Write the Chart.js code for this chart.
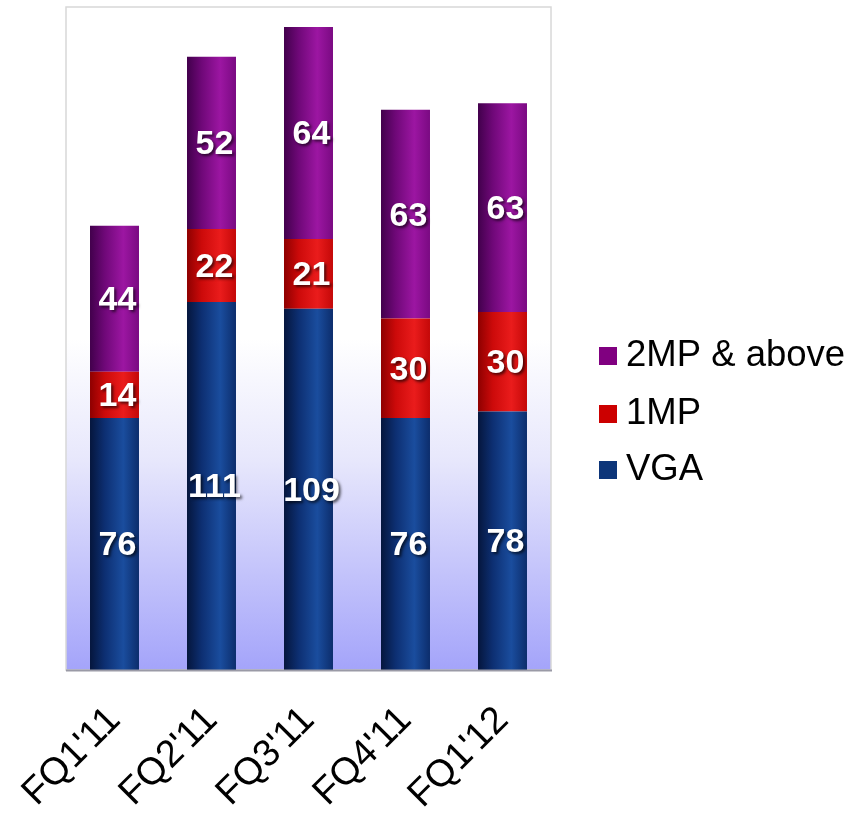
<!DOCTYPE html>
<html>
<head>
<meta charset="utf-8">
<script src="https://cdn.jsdelivr.net/npm/chart.js@4/dist/chart.umd.min.js"></script>
<style>
  html, body { margin: 0; padding: 0; background: #ffffff; }
  #wrap { width: 852px; height: 819px; position: relative; }
</style>
</head>
<body>
<div id="wrap"><canvas id="c" width="852" height="819"></canvas></div>
<script>
const categories = ["FQ1'11", "FQ2'11", "FQ3'11", "FQ4'11", "FQ1'12"];
const vgaValues = [76, 111, 109, 76, 78];
const oneMpValues = [14, 22, 21, 30, 30];
const twoMpValues = [44, 52, 64, 63, 63];
const seriesNames = ["VGA", "1MP", "2MP & above"];
const yMax = 200;

const FONT = '"Liberation Sans", Arial, Helvetica, sans-serif';
const BAR_FRACTION = 0.505;

// gradient stops per series: [left dark, mid, highlight, right edge], legend color
const shades = [
  { stops: ['#05163d', '#0d2f72', '#1a4d9e', '#0c2d6c'], legend: '#0c3579' },
  { stops: ['#8e0000', '#cc0a0a', '#ea1c1c', '#c40808'], legend: '#cc0000' },
  { stops: ['#42004c', '#6f0878', '#9c16a2', '#7a0a82'], legend: '#800080' }
];

function barFill(seriesIdx) {
  return function(ctx) {
    const chart = ctx.chart;
    const area = chart.chartArea;
    const s = shades[seriesIdx];
    if (!area) return s.legend;
    const xs = chart.scales.x;
    const cx = xs.getPixelForValue(ctx.dataIndex);
    const w = (area.right - area.left) / categories.length * BAR_FRACTION;
    const g = chart.ctx.createLinearGradient(cx - w / 2, 0, cx + w / 2, 0);
    g.addColorStop(0, s.stops[0]);
    g.addColorStop(0.3, s.stops[1]);
    g.addColorStop(0.68, s.stops[2]);
    g.addColorStop(1, s.stops[3]);
    return g;
  };
}

const plotBackground = {
  id: 'plotBackground',
  beforeDraw(chart) {
    const { ctx, chartArea: a } = chart;
    ctx.save();
    const g = ctx.createLinearGradient(0, a.top, 0, a.bottom);
    g.addColorStop(0, '#ffffff');
    g.addColorStop(0.5, '#ffffff');
    g.addColorStop(0.68, '#e8e8fc');
    g.addColorStop(1, '#a4a4fa');
    ctx.fillStyle = g;
    ctx.fillRect(a.left, a.top, a.right - a.left, a.bottom - a.top);
    ctx.strokeStyle = '#d8d8d8';
    ctx.lineWidth = 1.5;
    ctx.strokeRect(a.left, a.top, a.right - a.left, a.bottom - a.top);
    ctx.restore();
  },
  afterDatasetsDraw(chart) {
    const { ctx, chartArea: a } = chart;
    ctx.save();
    ctx.strokeStyle = '#9a9aa6';
    ctx.lineWidth = 2;
    ctx.beginPath();
    ctx.moveTo(a.left, a.bottom + 0.5);
    ctx.lineTo(a.right + 1, a.bottom + 0.5);
    ctx.stroke();
    ctx.restore();
  }
};

const valueLabels = {
  id: 'valueLabels',
  afterDatasetsDraw(chart) {
    const ctx = chart.ctx;
    ctx.save();
    ctx.font = 'bold 34px ' + FONT;
    ctx.textAlign = 'center';
    ctx.textBaseline = 'middle';
    ctx.fillStyle = '#ffffff';
    ctx.shadowColor = 'rgba(0,0,0,0.65)';
    ctx.shadowOffsetX = 2;
    ctx.shadowOffsetY = 2;
    ctx.shadowBlur = 3;
    chart.data.datasets.forEach((ds, di) => {
      const meta = chart.getDatasetMeta(di);
      meta.data.forEach((bar, i) => {
        const p = bar.getProps(['x', 'y', 'base'], true);
        const yc = (p.y + p.base) / 2 + 2;
        ctx.fillText(String(ds.data[i]), p.x + 3, yc);
      });
    });
    ctx.restore();
  }
};

const sideLegend = {
  id: 'sideLegend',
  afterDraw(chart) {
    const ctx = chart.ctx;
    ctx.save();
    ctx.font = '36.5px ' + FONT;
    ctx.textBaseline = 'middle';
    ctx.textAlign = 'left';
    const rows = [355, 413, 469];
    const order = [2, 1, 0];
    order.forEach((di, k) => {
      const y = rows[k];
      ctx.fillStyle = shades[di].legend;
      ctx.fillRect(599, y - 8, 18, 18);
      ctx.fillStyle = '#000000';
      ctx.fillText(chart.data.datasets[di].label, 626, y + 1);
    });
    ctx.restore();
  }
};

new Chart(document.getElementById('c'), {
  type: 'bar',
  data: {
    labels: categories,
    datasets: [
      { label: seriesNames[0], data: vgaValues, backgroundColor: barFill(0) },
      { label: seriesNames[1], data: oneMpValues, backgroundColor: barFill(1) },
      { label: seriesNames[2], data: twoMpValues, backgroundColor: barFill(2) }
    ]
  },
  options: {
    responsive: false,
    animation: false,
    devicePixelRatio: 1,
    layout: { padding: { left: 66, right: 301, top: 7, bottom: 0 } },
    datasets: { bar: { categoryPercentage: 1, barPercentage: BAR_FRACTION, borderWidth: 0 } },
    plugins: { legend: { display: false }, tooltip: { enabled: false } },
    scales: {
      x: {
        stacked: true,
        grid: { display: false, drawTicks: false },
        border: { display: false },
        ticks: {
          color: '#000000',
          font: { family: FONT, size: 38 },
          minRotation: 45,
          maxRotation: 45,
          padding: 28,
          autoSkip: false
        },
        afterFit(scale) { scale.height = 149; scale.paddingLeft = 0; scale.paddingRight = 0; }
      },
      y: {
        stacked: true,
        display: false,
        min: 0,
        max: yMax
      }
    }
  },
  plugins: [plotBackground, valueLabels, sideLegend]
});
</script>
</body>
</html>
